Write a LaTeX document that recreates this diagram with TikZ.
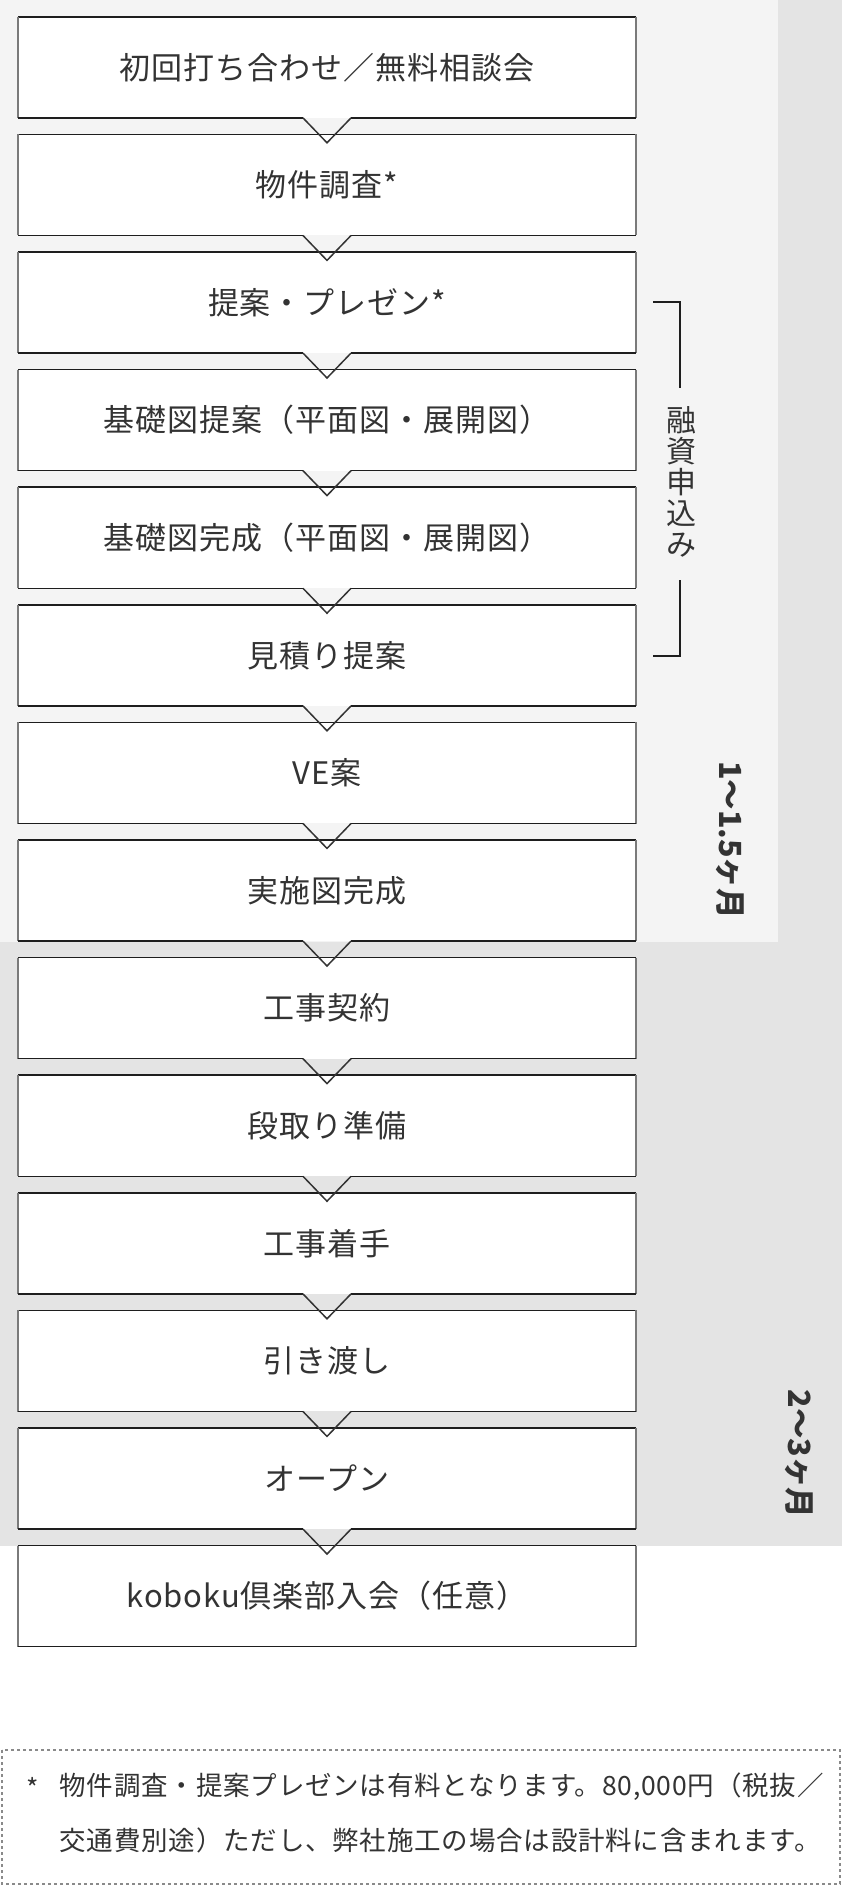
\documentclass[tikz,border=0pt]{standalone}
\usepackage{fontspec}
\setmainfont{Noto Sans CJK JP}
\usetikzlibrary{calc}
\definecolor{txt}{HTML}{333333}
\definecolor{bglight}{HTML}{F4F4F4}
\definecolor{bgdark}{HTML}{E4E4E4}
\definecolor{edgecol}{HTML}{1E1E1E}
\definecolor{sidecol}{HTML}{7A7A7A}
\definecolor{dashcol}{HTML}{8A8A8A}
\begin{document}
\begin{tikzpicture}[x=1pt,y=-1pt,
  stepbox/.style={fill=white, minimum width=618pt, minimum height=100.7pt, inner sep=0pt, text=txt, font=\fontsize{31}{36}\selectfont\addfontfeatures{LetterSpace=3}},
  hedge/.style={draw=edgecol, line width=1.5pt},
  vedge/.style={draw=sidecol, line width=2pt},
  vline/.style={draw=txt, line width=1.5pt, line join=miter},
  bracket/.style={draw=edgecol, line width=1.8pt},
  period/.style={rotate=-90, text=txt, font=\bfseries\fontsize{30.5}{30}\selectfont},
  note/.style={text=txt, font=\fontsize{26.5}{30}\selectfont\addfontfeatures{LetterSpace=3}, inner sep=0pt}]
\useasboundingbox (0,0) rectangle (842,1886);
% backgrounds
\fill[bglight] (0,0) rectangle (778,942);
\fill[bgdark] (778,0) rectangle (842,942);
\fill[bgdark] (0,942) rectangle (842,1546);
% boxes
\node[stepbox] (b0) at (327,67.35) {初回打ち合わせ／無料相談会};
\node[stepbox] (b1) at (327,184.95) {物件調査*};
\node[stepbox] (b2) at (327,302.55) {提案・プレゼン*};
\node[stepbox] (b3) at (327,420.15) {基礎図提案（平面図・展開図）};
\node[stepbox] (b4) at (327,537.75) {基礎図完成（平面図・展開図）};
\node[stepbox] (b5) at (327,655.35) {見積り提案};
\node[stepbox] (b6) at (327,772.95) {VE案};
\node[stepbox] (b7) at (327,890.55) {実施図完成};
\node[stepbox] (b8) at (327,1008.15) {工事契約};
\node[stepbox] (b9) at (327,1125.75) {段取り準備};
\node[stepbox] (b10) at (327,1243.35) {工事着手};
\node[stepbox] (b11) at (327,1360.95) {引き渡し};
\node[stepbox] (b12) at (327,1478.55) {オープン};
\node[stepbox] (b13) at (327,1596.15) {koboku倶楽部入会（任意）};
% outlines
\foreach \i in {0,...,13}{
  \draw[hedge] (b\i.north west) -- (b\i.north east);
  \draw[vedge] (b\i.north west) -- (b\i.south west);
  \draw[vedge] (b\i.north east) -- (b\i.south east);
}
\foreach \i [evaluate=\i as \j using int(\i+1)] in {0,...,12}{
  \draw[hedge] (b\i.south west) -- ($(b\i.south)+(-24,0)$);
  \draw[hedge] ($(b\i.south)+(24,0)$) -- (b\i.south east);
  \draw[vline] ($(b\i.south)+(-24,0)$) -- ($(b\j.north)+(0,8.4)$) -- ($(b\i.south)+(24,0)$);
}
\draw[hedge] (b13.south west) -- (b13.south east);
% loan bracket
\node[text=txt, align=center, inner sep=0pt, font=\fontsize{30}{31}\selectfont] (loan) at (681,482) {融\\資\\申\\込\\み};
\coordinate (lt) at (653,301.7);
\coordinate (lb) at (653,656);
\draw[bracket] (lt) -- (680,301.7) -- (680,388);
\draw[bracket] (680,580) -- (680,656) -- (lb);
% periods
\node[period] (p1) at (730,840) {1〜1.5ヶ月};
\node[period] (p2) at (799,1454) {2〜3ヶ月};
% footnote
\draw[dashcol, line width=1.5pt, dash pattern=on 3pt off 3pt] (2,1750) rectangle (840,1884);
\node[note, anchor=center] (star) at (33,1788) {*};
\node[note, anchor=west] (n1) at (59.5,1787) {物件調査・提案プレゼンは有料となります。80,000円（税抜／};
\node[note, anchor=west] (n2) at (59.5,1840) {交通費別途）ただし、弊社施工の場合は設計料に含まれます。};
\end{tikzpicture}
\end{document}
